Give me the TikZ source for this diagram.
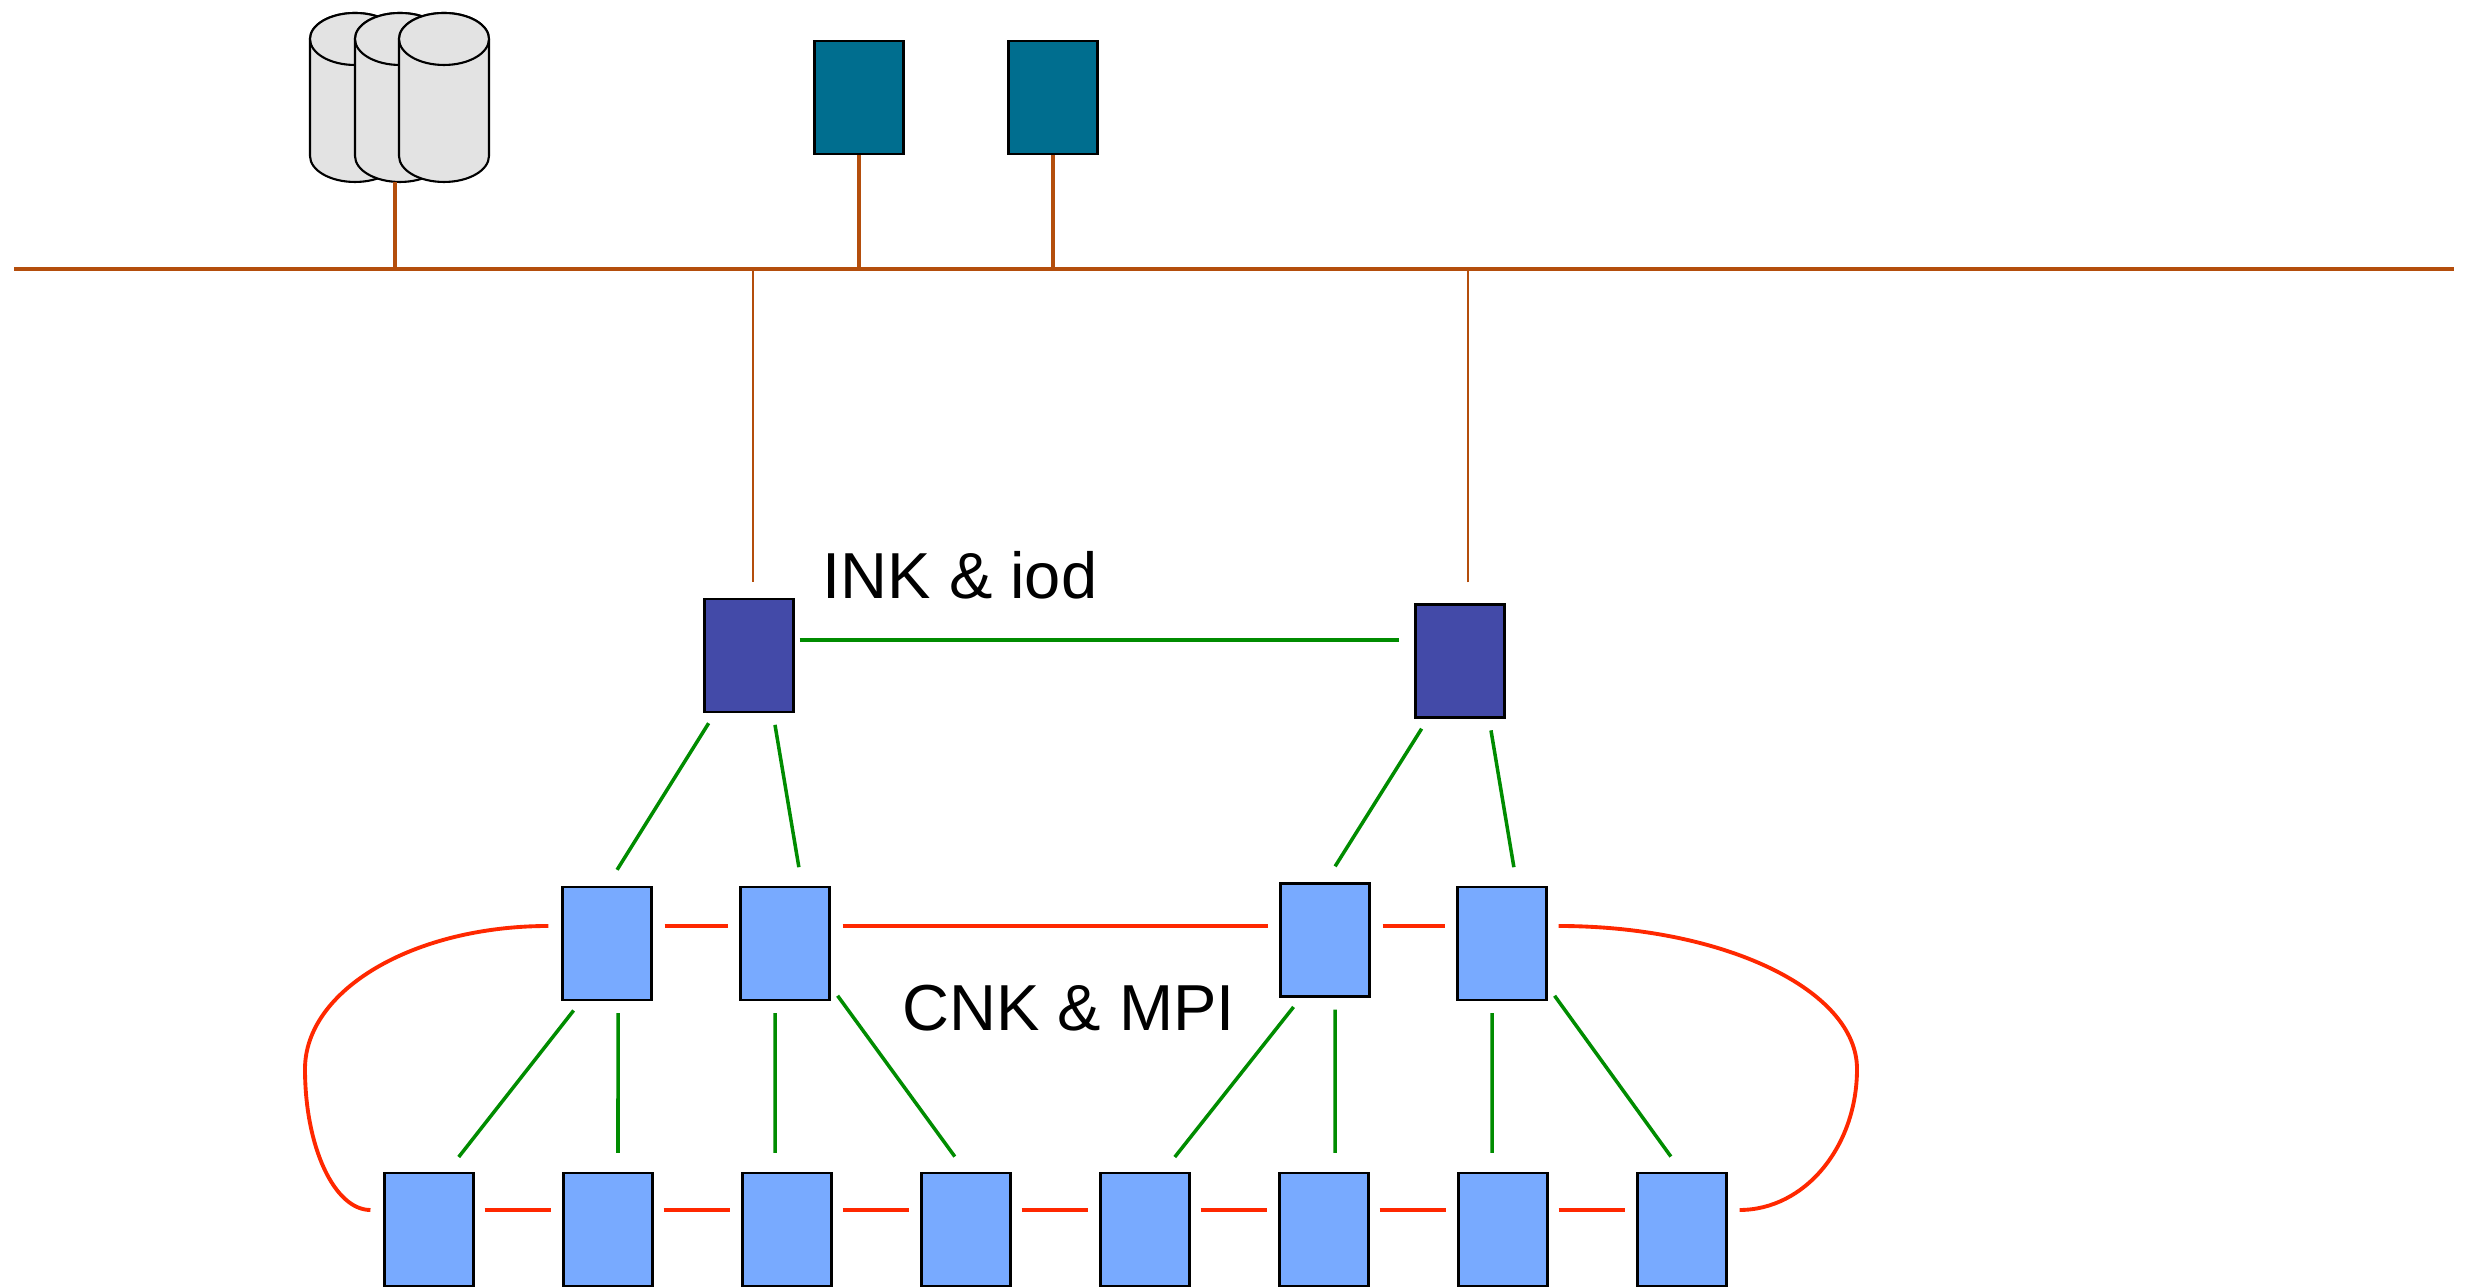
\documentclass[tikz,border=0pt]{standalone}
\usepackage{fontspec}
\setmainfont{Liberation Sans}

\definecolor{buscol}{RGB}{180,78,12}
\definecolor{fsteal}{RGB}{0,110,143}
\definecolor{inkblue}{RGB}{67,74,168}
\definecolor{cnkblue}{RGB}{120,170,255}
\definecolor{netgreen}{RGB}{0,140,0}
\definecolor{netred}{RGB}{255,40,0}
\definecolor{diskgray}{RGB}{227,227,227}

\begin{document}
\begin{tikzpicture}[
	box/.style={draw, line width=.6pt, minimum width=.89cm, minimum height=1.13cm, inner sep=0pt},
	cnk/.style={box, fill=cnkblue},
	ink/.style={box, fill=inkblue},
	fsrv/.style={box, fill=fsteal},
	disk/.style={draw, line width=.6pt, fill=diskgray},
	busline/.style={buscol, line width=1.15pt},
	drop/.style={buscol, line width=1pt},
	updrop/.style={buscol, line width=.7pt},
	gline/.style={netgreen, line width=1pt, shorten <=1.2mm, shorten >=1.9mm},
	rline/.style={netred, line width=1.1pt},
	rlink/.style={rline, shorten <=1.2mm, shorten >=1.1mm},
	lbl/.style={font=\fontsize{18.5}{22}\selectfont, inner sep=0pt}
	]
	\useasboundingbox (0,0) rectangle (24.65,12.88);
	
	% draw storage cylinders
	\foreach \i/\x in {1/3.55,2/4.00,3/4.44} {
		\draw[disk] (\x-.45,12.49) -- (\x-.45,11.32) arc[start angle=180, end angle=360, x radius=.45, y radius=.26]
			-- (\x+.45,12.49) arc[start angle=0, end angle=180, x radius=.45, y radius=.26] -- cycle;
		\draw[disk] (\x,12.49) ellipse[x radius=.45, y radius=.26];
		\coordinate (disk\i) at (\x,11.06);
	}
	% draw file servers
	\node[fsrv] (fs1) at (8.59,11.905) {};
	\node[fsrv] (fs2) at (10.53,11.905) {};
	
	% draw bus
	\coordinate (busL) at (0.14,10.19);
	\coordinate (busR) at (24.54,10.19);
	\draw[busline] (busL) -- (busR);
	\draw[drop] ([xshift=-.5mm]disk2) -- ([xshift=-.5mm]disk2 |- busL);
	\draw[drop] (fs1.south) -- (fs1.south |- busL);
	\draw[drop] (fs2.south) -- (fs2.south |- busL);
	
	% draw INK nodes
	\node[ink] (ink1) at (7.49,6.325) {};
	\node[ink] (ink2) at (14.60,6.27) {};
	\node[lbl, anchor=base west] (inklbl) at (8.22,6.89) {INK \& iod};
	\draw[updrop] ([xshift=.4mm,yshift=1.6mm]ink1.north) -- ([xshift=.4mm]ink1.north |- busL);
	\draw[updrop] ([xshift=.8mm,yshift=2.1mm]ink2.north) -- ([xshift=.8mm]ink2.north |- busL);
	\draw[gline, shorten <=.5mm, shorten >=1.5mm] ([yshift=1.55mm]ink1.east) -- ([yshift=1.55mm]ink1.east -| ink2.west);
	
	% draw CNK nodes
	\node[cnk] (m1) at (6.07,3.445) {};
	\node[cnk] (m2) at (7.85,3.445) {};
	\node[cnk] (m3) at (13.25,3.48) {};
	\node[cnk] (m4) at (15.02,3.445) {};
	\foreach \i in {1,...,8}
		\node[cnk] (b\i) at ({4.29+1.79*(\i-1)},0.585) {};
	\node[lbl, anchor=base west] (cnklbl) at (9.02,2.57) {CNK \& MPI};
	
	%%% green links
	\draw[gline] ([xshift=-3.4mm]ink1.south) -- (m1.north);
	\draw[gline] ([xshift=2.4mm]ink1.south) -- ([xshift=1.7mm]m2.north);
	\draw[gline] ([xshift=-3.2mm]ink2.south) -- (m3.north);
	\draw[gline] ([xshift=2.9mm]ink2.south) -- ([xshift=1.5mm]m4.north);
	\draw[gline] ([xshift=-2.6mm]m1.south) -- ([xshift=1.8mm]b1.north);
	\draw[gline] ([xshift=1.1mm]m1.south) -- ([xshift=1mm]b2.north);
	\draw[gline] ([xshift=-1mm]m2.south) -- ([xshift=-1.2mm]b3.north);
	\draw[gline] ([yshift=1.5mm]m2.south east) -- (b4.north);
	\draw[gline] ([xshift=-2.4mm]m3.south) -- ([xshift=1.8mm]b5.north);
	\draw[gline] ([xshift=1mm]m3.south) -- ([xshift=1.1mm]b6.north);
	\draw[gline] ([xshift=-1mm]m4.south) -- ([xshift=-1.1mm]b7.north);
	\draw[gline] ([yshift=1.5mm]m4.south east) -- (b8.north);
	
	%%% red links
	\draw[rlink] ([yshift=1.75mm]m1.east) -- ([yshift=1.75mm]m2.west);
	\draw[rlink] ([yshift=1.75mm]m2.east) -- ([yshift=1.75mm]m2.east -| m3.west);
	\draw[rlink] ([yshift=1.75mm]m4.west -| m3.east) -- ([yshift=1.75mm]m4.west);
	\foreach \i/\j in {1/2,2/3,3/4,4/5,5/6,6/7,7/8}
		\draw[rlink, shorten <=1mm] ([yshift=1.95mm]b\i.east) -- ([yshift=1.95mm]b\j.west);
	
	% wrap-around
	\coordinate (bendL) at (3.05,2.19);
	\coordinate (bendR) at (18.57,2.19);
	\draw[rline] ([xshift=-1.3mm,yshift=1.75mm]m1.west) .. controls +(-1.35,0) and +(0,0.79) .. (bendL)
		.. controls +(0,-0.78) and +(-0.36,0) .. ([xshift=-1.3mm,yshift=1.95mm]b1.west);
	\draw[rline] ([xshift=1.1mm,yshift=1.75mm]m4.east) .. controls +(1.65,0) and +(0,0.79) .. (bendR)
		.. controls +(0,-0.78) and +(0.65,0) .. ([xshift=1.2mm,yshift=1.95mm]b8.east);
\end{tikzpicture}
\end{document}
